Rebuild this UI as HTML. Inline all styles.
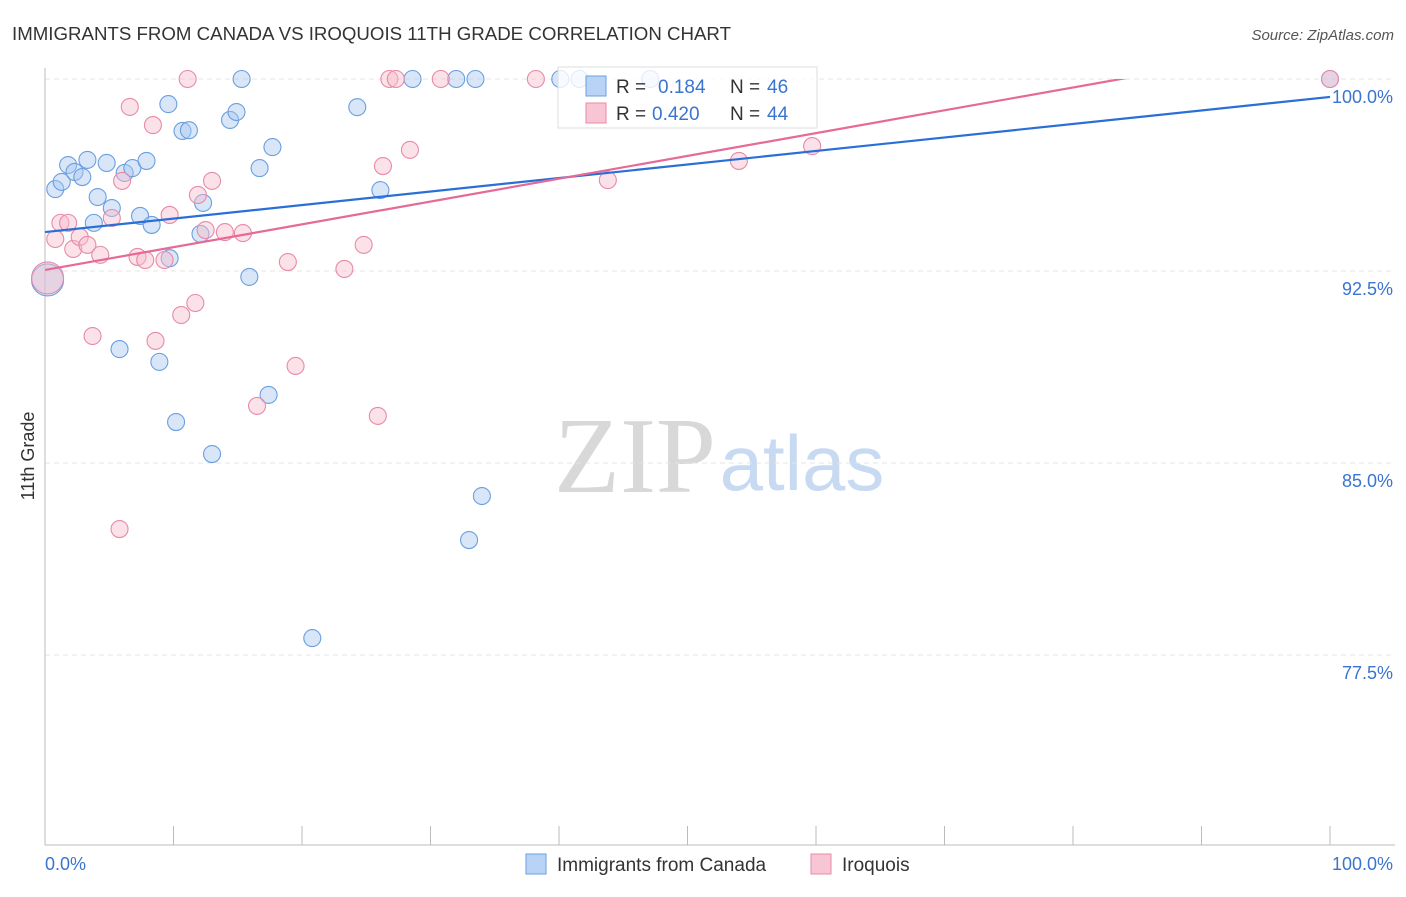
<!DOCTYPE html>
<html><head><meta charset="utf-8"><style>
body{margin:0;background:#fff;font-family:"Liberation Sans",sans-serif}
#wrap{position:relative;width:1406px;height:892px}
</style></head><body>
<div id="wrap">
<svg id="svg" width="1406" height="892" xmlns="http://www.w3.org/2000/svg">
<text x="12" y="40" font-size="18" fill="#333" textLength="719" lengthAdjust="spacingAndGlyphs">IMMIGRANTS FROM CANADA VS IROQUOIS 11TH GRADE CORRELATION CHART</text>
<text x="1394" y="40" font-size="15" fill="#555" font-style="italic" text-anchor="end">Source: ZipAtlas.com</text>
<text x="635" y="492" font-size="108" fill="#d8d8d8" font-family="Liberation Serif,serif" text-anchor="middle">ZIP</text>
<text x="802" y="490" font-size="78" fill="#c8daf2" text-anchor="middle">atlas</text>
<text transform="translate(34,456) rotate(-90)" font-size="18" fill="#333" text-anchor="middle">11th Grade</text>
<g id="grid"></g><g id="axes"></g>
<defs><clipPath id="clip"><rect x="45" y="79" width="1350" height="766"/></clipPath></defs>
<g id="pts"></g><g id="lines" clip-path="url(#clip)"></g>
<g>
<rect x="558" y="67" width="259" height="61" fill="#fff" fill-opacity="0.8" stroke="#ddd"/>
<rect x="586" y="76" width="20" height="20" fill="#b8d3f5" stroke="#6a9fe0"/>
<text x="616" y="93" font-size="19" fill="#333">R = </text>
<text x="658" y="93" font-size="19" fill="#3a74d0">0.184</text>
<text x="730" y="93" font-size="19" fill="#333">N = </text>
<text x="767" y="93" font-size="19" fill="#3a74d0">46</text>
<rect x="586" y="103" width="20" height="20" fill="#f8c5d5" stroke="#e88aa8"/>
<text x="616" y="120" font-size="19" fill="#333">R = </text>
<text x="652" y="120" font-size="19" fill="#3a74d0">0.420</text>
<text x="730" y="120" font-size="19" fill="#333">N = </text>
<text x="767" y="120" font-size="19" fill="#3a74d0">44</text>
</g>
<g>
<rect x="526" y="854" width="20" height="20" fill="#b8d3f5" stroke="#6a9fe0"/>
<text x="557" y="871" font-size="19" fill="#333">Immigrants from Canada</text>
<rect x="811" y="854" width="20" height="20" fill="#f8c5d5" stroke="#e88aa8"/>
<text x="842" y="871" font-size="19" fill="#333">Iroquois</text>
</g>
</svg></div>
<script>
const yTicks=[100,92.5,85,77.5];
const yTickLabels=["100.0%","92.5%","85.0%","77.5%"];
const blueX=[0.2,0.8,1.3,1.8,2.3,2.9,3.3,4.1,3.8,4.8,5.2,6.2,6.8,7.4,7.9,8.3,9.6,9.7,10.7,11.2,12.1,12.3,14.4,14.9,15.3,15.9,16.7,17.7,17.4,10.2,13.0,5.8,8.9,20.8,24.3,26.1,28.6,32.0,33.5,34.0,33.0,40.1,41.6,47.1,100];
const blueY=[92.15,95.7,95.98,96.64,96.37,96.17,96.84,95.39,94.38,96.72,94.96,96.33,96.52,94.65,96.8,94.3,99.02,93.0,97.97,98.0,93.95,95.16,98.4,98.71,100,92.27,96.52,97.34,87.66,86.6,85.35,89.45,88.95,78.16,98.9,95.66,100,100,100,83.71,81.99,100,100,100,100];
const pinkX=[0.2,0.8,1.2,1.8,2.2,2.7,3.3,4.3,5.2,5.8,6.0,6.6,7.2,7.8,8.4,8.6,9.3,9.7,10.6,11.1,11.7,11.9,12.5,13.0,14.0,15.4,16.5,18.9,19.5,23.3,24.8,25.9,26.3,26.8,27.3,28.4,30.8,38.2,43.8,54.0,59.7,100,3.7];
const pinkY=[92.23,93.75,94.38,94.38,93.36,93.83,93.52,93.13,94.57,82.42,96.02,98.91,93.05,92.93,98.2,89.77,92.93,94.69,90.78,100,91.25,95.47,94.1,96.02,94.02,93.98,87.23,92.85,88.79,92.58,93.52,86.84,96.6,100,100,97.23,100,100,96.05,96.8,97.38,100,89.96];
const blueTrend=[94.02,99.30];
const pinkTrend=[92.54,101.45];
const NS="http://www.w3.org/2000/svg";
const sx=v=>45+v*12.85, sy=v=>79+(100-v)*25.6;
function mk(t,a,p){const e=document.createElementNS(NS,t);for(const k in a)e.setAttribute(k,a[k]);p.appendChild(e);return e;}
const grid=document.getElementById('grid'),axes=document.getElementById('axes');
yTicks.forEach((t,i)=>{
 const l=mk('line',{x1:45,x2:1395,y1:sy(t),y2:sy(t),stroke:'#e4e4e4','stroke-dasharray':'5,4'},grid);
 
 
 const tx=mk('text',{x:1393,y:sy(t)+24,'font-size':18,fill:'#3a74d0','text-anchor':'end'},axes);
 tx.textContent=yTickLabels[i];
 
 
});
const ax=mk('line',{x1:45,x2:1395,y1:845,y2:845,stroke:'#bbb'},axes);


const ay=mk('line',{x1:45,x2:45,y1:68,y2:845,stroke:'#bbb'},axes);


for(let i=0;i<=10;i++){const t=mk('line',{x1:sx(i*10),x2:sx(i*10),y1:826,y2:845,stroke:'#bbb'},axes);
 
 }
[["0.0%",45,'start'],["100.0%",1393,'end']].forEach(a=>{const t=mk('text',{x:a[1],y:870,'font-size':18,fill:'#3a74d0','text-anchor':a[2]},axes);t.textContent=a[0];
 
 });
const pts=document.getElementById('pts');
function dots(X,Y,fill,stroke,name){X.forEach((x,i)=>{const r=(i===0&&x<0.5)?16:8.5;
 const c=mk('circle',{cx:sx(x),cy:sy(Y[i]),r:r,fill:fill,'fill-opacity':0.45,stroke:stroke,'stroke-width':1.1},pts);
 
 });}
dots(blueX,blueY,'#a9c8f0','#6a9fe0','point-canada');
dots(pinkX,pinkY,'#f7bccd','#e88aa8','point-iroquois');
const lines=document.getElementById('lines');
const b=mk('line',{x1:sx(0),y1:sy(blueTrend[0]),x2:sx(100),y2:sy(blueTrend[1]),stroke:'#2a6fd6','stroke-width':2.2},lines);


const p=mk('line',{x1:sx(0),y1:sy(pinkTrend[0]),x2:sx(100),y2:sy(pinkTrend[1]),stroke:'#e56a96','stroke-width':2.2},lines);


</script>
</body></html>
